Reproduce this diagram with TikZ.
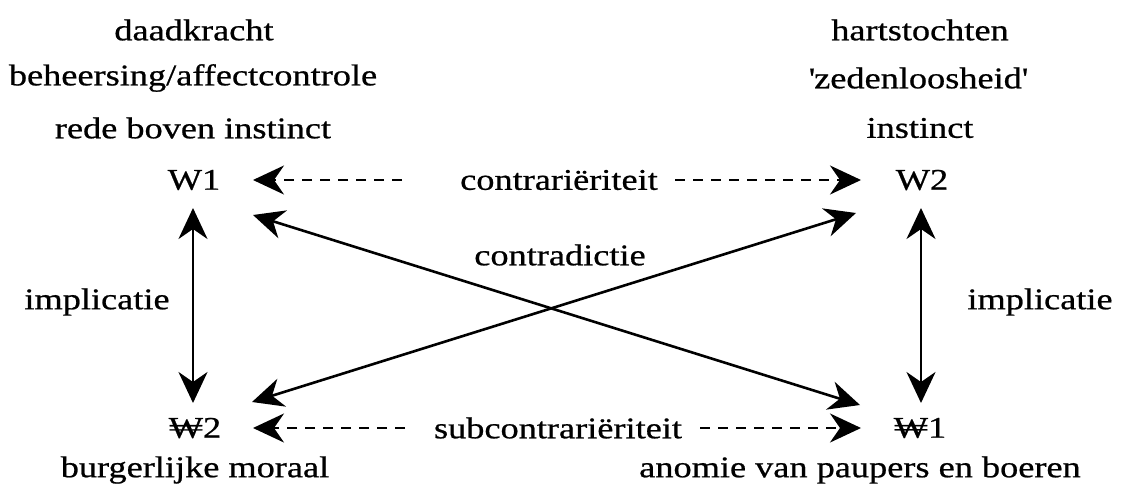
\documentclass[tikz,border=0pt]{standalone}
\usepackage{fontspec}
\setmainfont{Liberation Serif}[FakeStretch=1.21, FakeBold=0.7]
\usetikzlibrary{arrows.meta}
\begin{document}
\begin{tikzpicture}[x=1pt,y=-1pt,
  lbl/.style={font=\fontsize{30}{36}\selectfont, inner sep=0pt, anchor=center},
  term/.style={lbl, inner sep=6pt},
  head/.style={Stealth[length=31pt,width=29pt,inset=10pt]},
  tip/.style={-{Stealth[length=31pt,width=29pt,inset=10pt]}},
  solidarrow/.style={line width=2.6pt, {Stealth[length=31pt,width=29pt,inset=10pt]}-{Stealth[length=31pt,width=29pt,inset=10pt]}},
  dasharrow/.style={line width=2.4pt, dash pattern=on 10pt off 8pt, tip}]
\useasboundingbox (0,0) rectangle (1145,490);
% corner terms
\node[term] (w1) at (194,180) {W1};
\node[term] (w2) at (922,180) {W2};
\node[term] (nw2) at (195,428) {₩2};
\node[term] (nw1) at (920,428) {₩1};
% descriptions
\node[lbl] (d1) at (194,30) {daadkracht};
\node[lbl] (d2) at (193,78) {beheersing/affectcontrole};
\node[lbl] (d3) at (193,128) {rede boven instinct};
\node[lbl] (h1) at (920,30) {hartstochten};
\node[lbl] (h2) at (918,78) {\textquotesingle zedenloosheid\textquotesingle};
\node[lbl] (h3) at (920,128) {instinct};
\node[lbl] (b1) at (195,470) {burgerlijke moraal};
\node[lbl] (b2) at (860,470) {anomie van paupers en boeren};
% relation labels
\node[lbl] (contr) at (559,180) {contrariëriteit};
\node[lbl] (contra) at (560,255) {contradictie};
\node[lbl] (sub) at (558,428) {subcontrariëriteit};
\node[lbl] (impl) at (97,302) {implicatie};
\node[lbl] (impr) at (1040,302) {implicatie};
% connector end points
\coordinate (cl) at (402,180);
\coordinate (cr) at (675,180);
\coordinate (sl) at (405,428);
\coordinate (sr) at (700,428);
\coordinate (tl) at (253,180);
\coordinate (tr) at (861,180);
\coordinate (bl) at (253,428);
\coordinate (br) at (861,428);
\coordinate (vl1) at (193,208);
\coordinate (vl2) at (193,403);
\coordinate (vr1) at (921,208);
\coordinate (vr2) at (921,403);
\coordinate (x1) at (253,215);
\coordinate (x2) at (860,405);
\coordinate (x3) at (252,402);
\coordinate (x4) at (856,213);
% dashed relations
\draw[dasharrow] (cl) -- (tl);
\draw[dasharrow] (cr) -- (tr);
\draw[dasharrow] (sl) -- (bl);
\draw[dasharrow] (sr) -- (br);
% implication
\draw[solidarrow] (vl1) -- (vl2);
\draw[solidarrow] (vr1) -- (vr2);
% contradiction diagonals
\draw[solidarrow] (x1) -- (x2);
\draw[solidarrow] (x3) -- (x4);
\end{tikzpicture}
\end{document}
